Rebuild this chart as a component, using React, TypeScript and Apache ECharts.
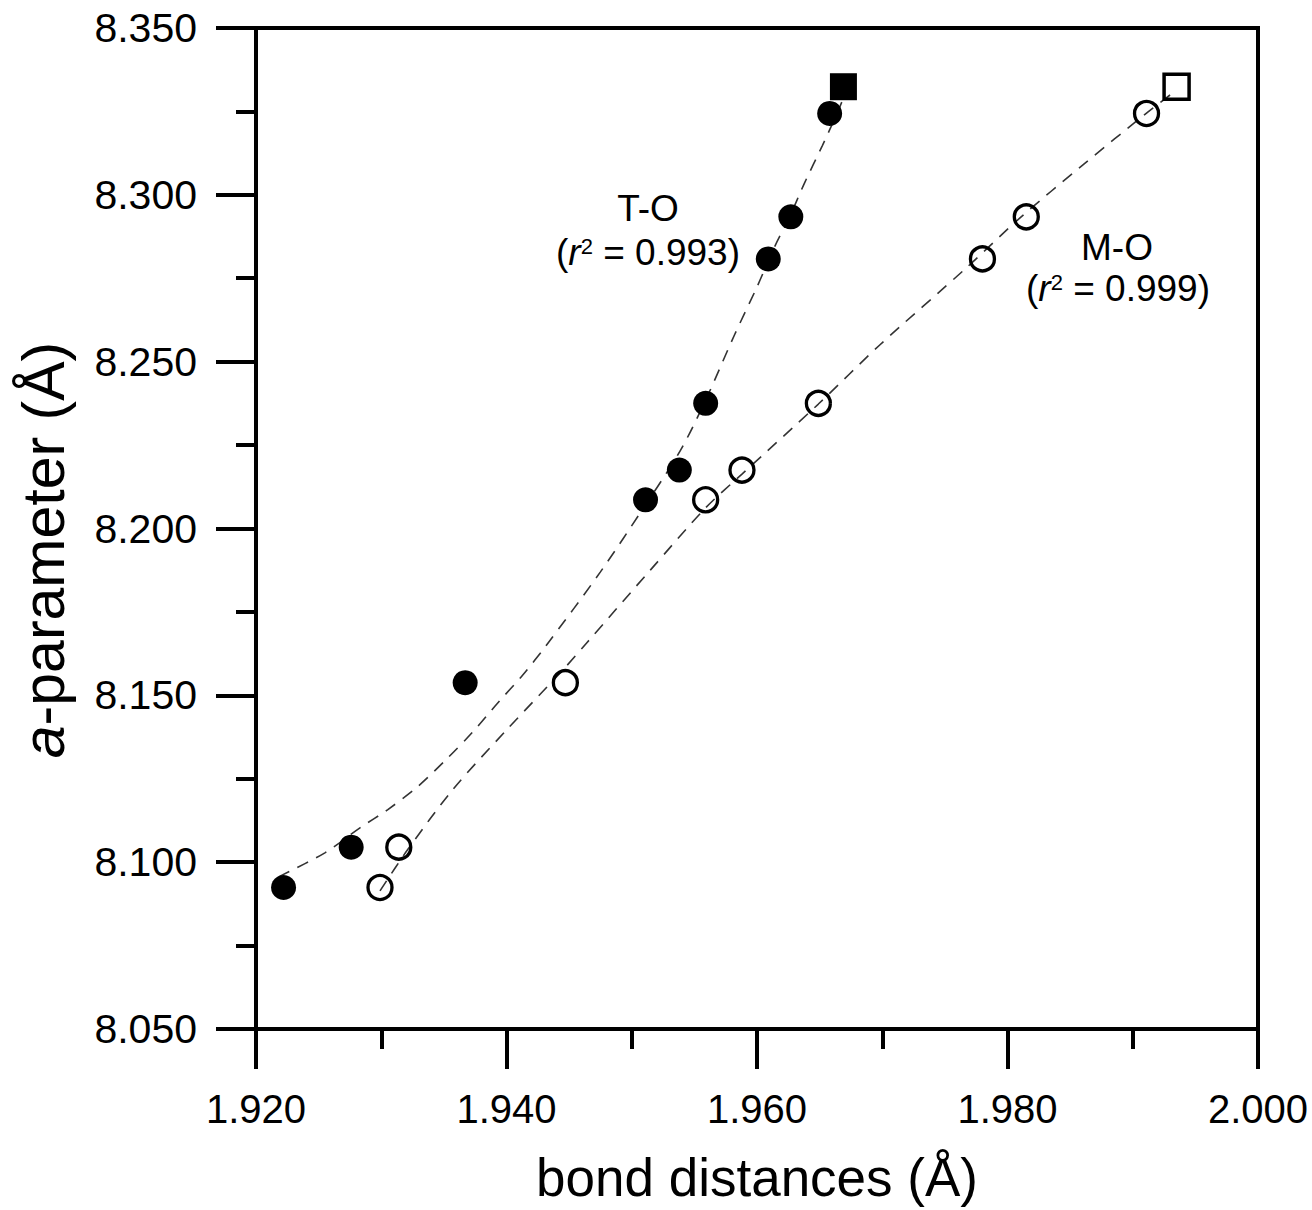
import React, { useEffect, useRef } from "react";
import * as echarts from "echarts";

const FONT = "'Liberation Sans', Arial, Helvetica, sans-serif";

// shared a-parameter values (Å)
const aParameter = [8.0924, 8.1045, 8.1538, 8.2086, 8.2175, 8.2375, 8.2808, 8.2934, 8.3244];
// T-O bond distances (filled circles)
const toDistance = [1.9222, 1.9276, 1.9367, 1.9511, 1.9538, 1.9559, 1.9609, 1.9627, 1.9658];
// M-O bond distances (open circles)
const moDistance = [1.9299, 1.9314, 1.9447, 1.9559, 1.9588, 1.9649, 1.978, 1.9815, 1.9911];
// square end-members
const squareA = 8.3324;
const toSquareX = 1.9669;
const moSquareX = 1.9935;

// dashed fit curves
const toFitX = [1.9218, 1.9255, 1.9283, 1.9305, 1.9329, 1.9353, 1.9373, 1.9393, 1.9413, 1.9432, 1.9475, 1.9511, 1.9539, 1.9559, 1.9582, 1.96, 1.9614, 1.9626, 1.9638, 1.9652, 1.9664, 1.9669];
const toFitY = [8.0956, 8.1028, 8.1103, 8.1157, 8.1226, 8.1312, 8.139, 8.1477, 8.1561, 8.1651, 8.187, 8.2071, 8.2235, 8.2385, 8.258, 8.2724, 8.2844, 8.2934, 8.3036, 8.3146, 8.3245, 8.329];
const moFitX = [1.9299, 1.9321, 1.9357, 1.94, 1.9445, 1.9464, 1.9515, 1.9559, 1.9588, 1.9649, 1.9698, 1.9768, 1.981, 1.986, 1.9911, 1.9935];
const moFitY = [8.0914, 8.1037, 8.1217, 8.1396, 8.1576, 8.1657, 8.1876, 8.2062, 8.2163, 8.2373, 8.255, 8.2784, 8.2931, 8.3089, 8.3245, 8.3314];

const xMin = 1.92, xMax = 2.0, xInterval = 0.02;
const yMin = 8.05, yMax = 8.35, yInterval = 0.05;

const axisCommon = {
  type: "value",
  axisLine: { show: true, onZero: false, lineStyle: { color: "#000", width: 4 } },
  axisTick: { show: true, inside: false, length: 40, lineStyle: { color: "#000", width: 4 } },
  minorTick: { show: true, splitNumber: 2, length: 20, lineStyle: { color: "#000", width: 4 } },
  splitLine: { show: false },
  minorSplitLine: { show: false },
};

export default function App() {
  const ref = useRef<HTMLDivElement>(null);
  useEffect(() => {
    if (!ref.current) return;
    const chart = echarts.init(ref.current, null, { renderer: "svg" });
    const fitStyle = { color: "#333", width: 1.6, type: [12, 9] };
    const supRich = {
      i: { fontStyle: "italic", fontSize: 37, fontFamily: FONT, fill: "#000" },
      s: { fontSize: 22, fontFamily: FONT, fill: "#000", verticalAlign: "top", padding: [2, 0, 0, 0] },
    };
    const option: any = {
      animation: false,
      backgroundColor: "#fff",
      grid: {
        left: 256, top: 28, width: 1002, height: 1001,
        show: true, borderColor: "#000", borderWidth: 4, backgroundColor: "transparent",
        containLabel: false, outerBoundsMode: "none",
      },
      xAxis: {
        ...axisCommon,
        min: xMin, max: xMax, interval: xInterval,
        axisLabel: { margin: 60, fontSize: 40, color: "#000", fontFamily: FONT, formatter: (v: number) => v.toFixed(3) },
        name: "bond distances (Å)", nameLocation: "middle", nameGap: 122,
        nameTextStyle: { fontSize: 53, color: "#000", fontFamily: FONT },
      },
      yAxis: {
        ...axisCommon,
        min: yMin, max: yMax, interval: yInterval,
        axisLabel: { margin: 59, fontSize: 41, color: "#000", fontFamily: FONT, formatter: (v: number) => v.toFixed(3) },
      },
      graphic: [
        { type: "text", x: 648, y: 208, silent: true, style: { text: "T-O", fontSize: 37, fontFamily: FONT, fill: "#000", align: "center", verticalAlign: "middle" } },
        { type: "text", x: 648, y: 252, silent: true, style: { text: "({i|r}{s|2} = 0.993)", fontSize: 37, fontFamily: FONT, fill: "#000", align: "center", verticalAlign: "middle", rich: supRich } },
        { type: "text", x: 1117, y: 247, silent: true, style: { text: "M-O", fontSize: 37, fontFamily: FONT, fill: "#000", align: "center", verticalAlign: "middle" } },
        { type: "text", x: 1118, y: 288, silent: true, style: { text: "({i|r}{s|2} = 0.999)", fontSize: 37, fontFamily: FONT, fill: "#000", align: "center", verticalAlign: "middle", rich: supRich } },
        { type: "text", x: 44, y: 550, rotation: Math.PI / 2, silent: true, style: { text: "{i|a}-parameter (Å)", fontSize: 59, fontFamily: FONT, fill: "#000", align: "center", verticalAlign: "middle",
          rich: { i: { fontStyle: "italic", fontSize: 59, fontFamily: FONT, fill: "#000" } } } },
      ],
      series: [
        { type: "line", name: "T-O fit", data: toFitX.map((x, i) => [x, toFitY[i]]), smooth: 0.3, symbol: "none", lineStyle: fitStyle, silent: true, z: 1 },
        { type: "line", name: "M-O fit", data: moFitX.map((x, i) => [x, moFitY[i]]), smooth: 0.3, symbol: "none", lineStyle: fitStyle, silent: true, z: 1 },
        { type: "scatter", name: "T-O", data: toDistance.map((x, i) => [x, aParameter[i]]), symbol: "circle", symbolSize: 25, itemStyle: { color: "#000", opacity: 1 }, z: 3 },
        { type: "scatter", name: "T-O end", data: [[toSquareX, squareA]], symbol: "rect", symbolSize: 27, itemStyle: { color: "#000", opacity: 1 }, z: 3 },
        { type: "scatter", name: "M-O", data: moDistance.map((x, i) => [x, aParameter[i]]), symbol: "circle", symbolSize: 24, itemStyle: { color: "rgba(0,0,0,0)", borderColor: "#000", borderWidth: 3.3, opacity: 1 }, z: 3 },
        { type: "scatter", name: "M-O end", data: [[moSquareX, squareA]], symbol: "rect", symbolSize: 25, itemStyle: { color: "rgba(0,0,0,0)", borderColor: "#000", borderWidth: 3.5, opacity: 1 }, z: 3 },
      ],
    };
    chart.setOption(option);
    return () => chart.dispose();
  }, []);
  return <div ref={ref} style={{ position: "absolute", left: 0, top: 0, width: 1312, height: 1210 }} />;
}
